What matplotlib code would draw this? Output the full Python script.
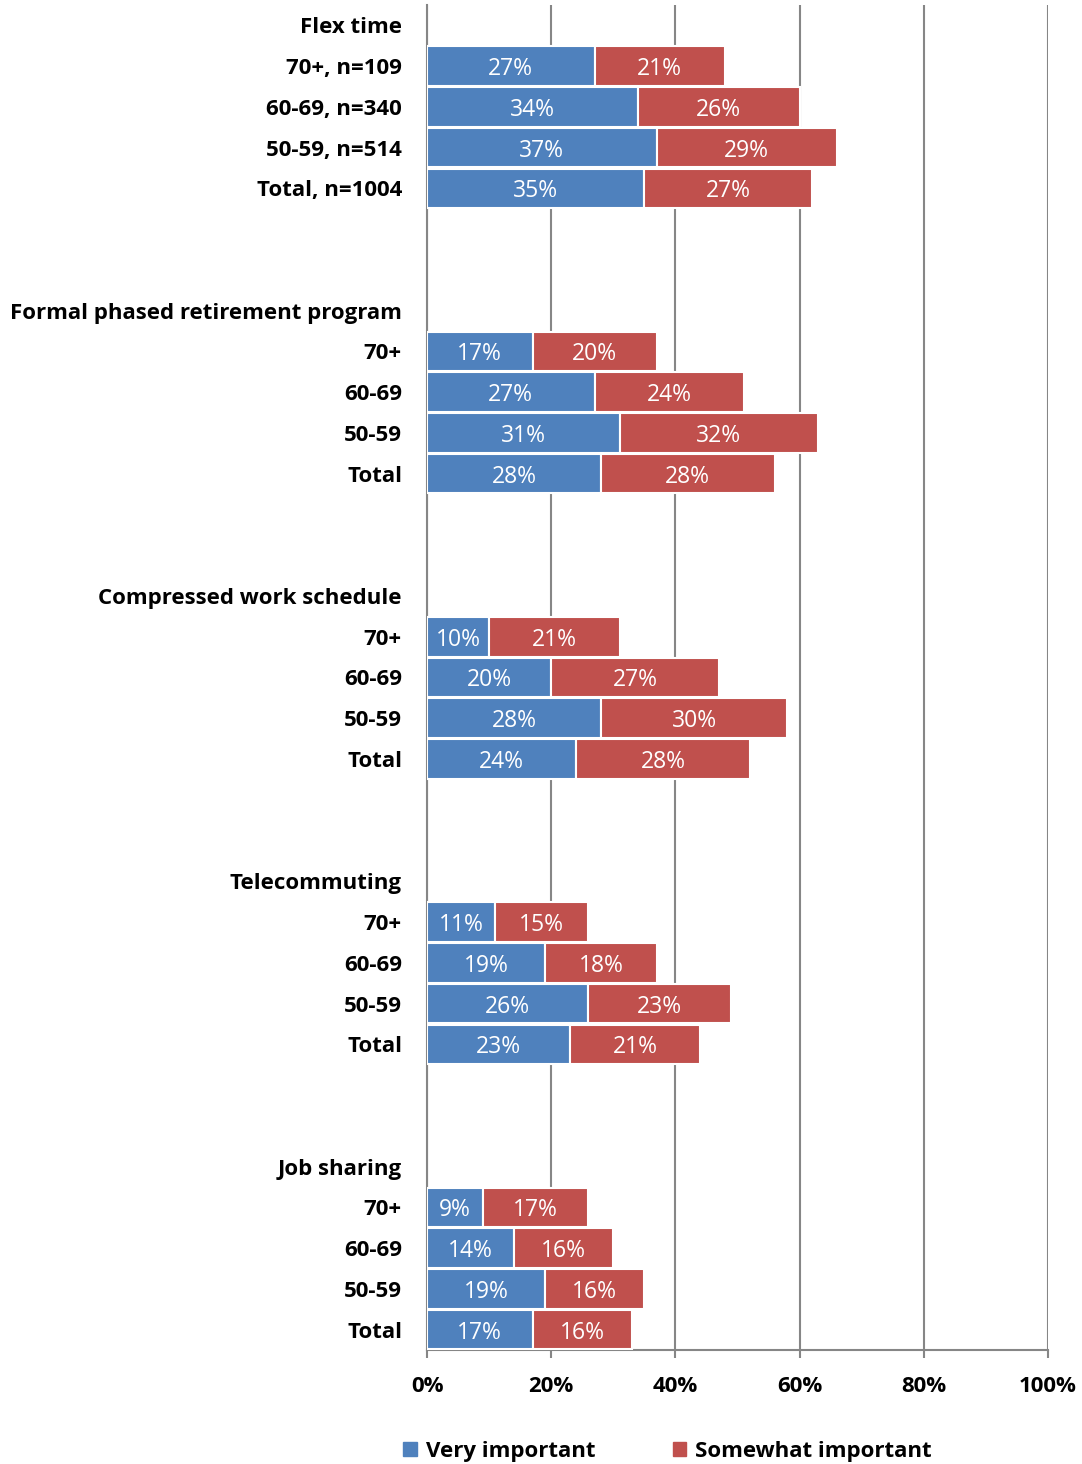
import matplotlib.pyplot as plt
import numpy as np
from matplotlib.patches import Patch

plt.rcParams['font.family'] = ['Open Sans', 'DejaVu Sans']

groups = ['Flex time', 'Formal phased retirement program', 'Compressed work schedule',
          'Telecommuting', 'Job sharing']
ages_first = ['70+, n=109', '60-69, n=340', '50-59, n=514', 'Total, n=1004']
ages = ['70+', '60-69', '50-59', 'Total']

very = [[27, 34, 37, 35],
        [17, 27, 31, 28],
        [10, 20, 28, 24],
        [11, 19, 26, 23],
        [9, 14, 19, 17]]
somewhat = [[21, 26, 29, 27],
            [20, 24, 32, 28],
            [21, 27, 30, 28],
            [15, 18, 23, 21],
            [17, 16, 16, 16]]

blue = '#4F81BD'
red = '#C0504D'

# build the row layout: header, 4 bars, 2 blank rows
labels = []
rows_v, rows_s, rows_pos = [], [], []
pos = 0
for gi, g in enumerate(groups):
    labels.append((pos, g))
    pos += 1
    names = ages_first if gi == 0 else ages
    for k in range(4):
        labels.append((pos, names[k]))
        rows_pos.append(pos)
        rows_v.append(very[gi][k])
        rows_s.append(somewhat[gi][k])
        pos += 1
    if gi < len(groups) - 1:
        pos += 2

rows_pos = np.array(rows_pos)
rows_v = np.array(rows_v)
rows_s = np.array(rows_s)

fig = plt.figure(figsize=(10.82, 14.64), dpi=100)
ax = fig.add_axes([427/1082, 1 - 1350/1464, 621/1082, 1345/1464])

h = 0.97
ax.barh(rows_pos, rows_v, height=h, color=blue, edgecolor='white', linewidth=1.5, zorder=3)
ax.barh(rows_pos, rows_s, left=rows_v, height=h, color=red, edgecolor='white', linewidth=1.5, zorder=3)

for p, v, s in zip(rows_pos, rows_v, rows_s):
    ax.text(v / 2, p, f'{v}%', ha='center', va='center_baseline', color='white', fontsize=16.5, zorder=4)
    ax.text(v + s / 2, p, f'{s}%', ha='center', va='center_baseline', color='white', fontsize=16.5, zorder=4)

ax.set_xlim(0, 100)
ax.set_ylim(32.5, -0.5)
ax.set_xticks(range(0, 101, 20))
ax.set_xticklabels([f'{t}%' for t in range(0, 101, 20)], fontsize=16, fontweight='bold')
ax.set_yticks([l[0] for l in labels])
ax.set_yticklabels([l[1] for l in labels], fontsize=16, fontweight='bold')
ax.tick_params(axis='y', length=0, pad=18)
ax.tick_params(axis='x', length=6, color='#868686', width=1.5, pad=13)

ax.grid(axis='x', color='#868686', linewidth=1.5, zorder=0)
for sp in ['top', 'right']:
    ax.spines[sp].set_visible(False)
ax.spines['left'].set_color('#868686')
ax.spines['left'].set_linewidth(1.5)
ax.spines['bottom'].set_color('#868686')
ax.spines['bottom'].set_linewidth(1.5)

handles = [Patch(color=blue, label='Very important'), Patch(color=red, label='Somewhat important')]
fig.legend(handles=handles, loc='center', bbox_to_anchor=(0.617, 1 - 1451/1464), ncol=2,
           frameon=False, prop={'size': 16, 'weight': 'bold'}, handlelength=0.6, handleheight=0.6,
           handletextpad=0.4, columnspacing=3.5)

fig.savefig('out.png', dpi=100)
